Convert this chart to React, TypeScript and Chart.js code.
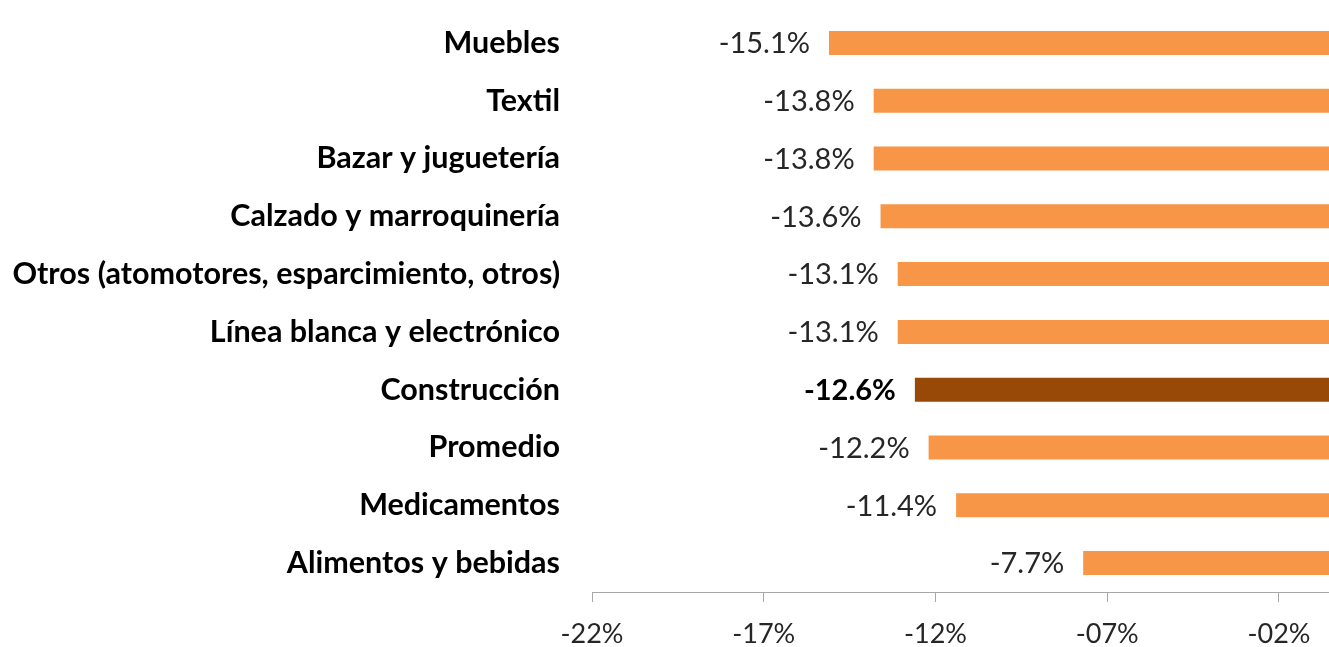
import React, { useEffect, useRef } from "react";
import { Chart, registerables } from "chart.js";

Chart.register(...registerables);

const CATEGORIES = [
  "Muebles",
  "Textil",
  "Bazar y juguetería",
  "Calzado y marroquinería",
  "Otros (atomotores, esparcimiento, otros)",
  "Línea blanca y electrónico",
  "Construcción",
  "Promedio",
  "Medicamentos",
  "Alimentos y bebidas",
];

const VALUES = [-0.151, -0.138, -0.138, -0.136, -0.131, -0.131, -0.126, -0.122, -0.114, -0.077];

const HIGHLIGHT = "Construcción";

const X_TICKS = [-0.22, -0.17, -0.12, -0.07, -0.02];

const ORANGE = "#F79646";
const DARK = "#984807";
const FONT = "Lato";

function fmtTick(v: number): string {
  const p = Math.round(Math.abs(v) * 100);
  const s = p < 10 ? "0" + p : String(p);
  return (v < 0 ? "-" : "") + s + "%";
}

function fmtLabel(v: number): string {
  return (v * 100).toFixed(1) + "%";
}

const valueLabels = {
  id: "valueLabels",
  afterDatasetsDraw(chart: any) {
    const ctx = chart.ctx;
    const meta = chart.getDatasetMeta(0);
    ctx.save();
    meta.data.forEach((el: any, i: number) => {
      const bold = CATEGORIES[i] === HIGHLIGHT;
      ctx.font = `${bold ? "bold " : ""}29px ${FONT}`;
      ctx.fillStyle = bold ? "#000000" : "#262626";
      ctx.textAlign = "right";
      ctx.textBaseline = "middle";
      const left = Math.min(el.x, el.base);
      ctx.fillText(fmtLabel(VALUES[i]), left - 19, el.y + 1);
    });
    ctx.restore();
  },
};

export default function App() {
  const ref = useRef<HTMLCanvasElement | null>(null);
  useEffect(() => {
    if (!ref.current) return;
    const chart = new Chart(ref.current, {
      type: "bar",
      data: {
        labels: CATEGORIES,
        datasets: [
          {
            data: VALUES,
            backgroundColor: CATEGORIES.map((c) => (c === HIGHLIGHT ? DARK : ORANGE)),
            borderWidth: 0,
            categoryPercentage: 1,
            barPercentage: 0.415,
          },
        ],
      },
      options: {
        indexAxis: "y",
        animation: false,
        responsive: false,
        maintainAspectRatio: false,
        layout: { padding: { top: 14, right: 0, bottom: 0, left: 0 } },
        plugins: {
          legend: { display: false },
          tooltip: { enabled: false },
          title: { display: false },
        },
        scales: {
          x: {
            type: "linear",
            min: -0.22,
            max: -0.00544,
            afterBuildTicks: (scale: any) => {
              scale.ticks = X_TICKS.map((v) => ({ value: v }));
            },
            afterFit: (scale: any) => {
              scale.height = 55;
              scale.paddingLeft = 0;
              scale.paddingRight = 0;
            },
            grid: {
              display: true,
              drawOnChartArea: false,
              drawTicks: true,
              tickLength: 10,
              color: "#a6a6a6",
              lineWidth: 1,
            },
            border: { display: true, color: "#a6a6a6", width: 1 },
            ticks: {
              callback: (v: any) => fmtTick(Number(v)),
              font: { family: FONT, size: 27 },
              color: "#262626",
              padding: 16,
              maxRotation: 0,
              autoSkip: false,
            },
          },
          y: {
            type: "category",
            afterFit: (scale: any) => {
              scale.width = 592;
              scale.paddingTop = 0;
              scale.paddingBottom = 0;
            },
            grid: { display: false, drawTicks: false },
            border: { display: false },
            ticks: {
              font: { family: FONT, size: 30.5, weight: "bold" },
              color: "#000000",
              padding: 32,
              autoSkip: false,
            },
          },
        },
      },
      plugins: [valueLabels],
    });
    return () => chart.destroy();
  }, []);
  return (
    <canvas
      ref={ref}
      width={1329}
      height={647}
      style={{ position: "fixed", left: 0, top: 0, display: "block" }}
    />
  );
}
